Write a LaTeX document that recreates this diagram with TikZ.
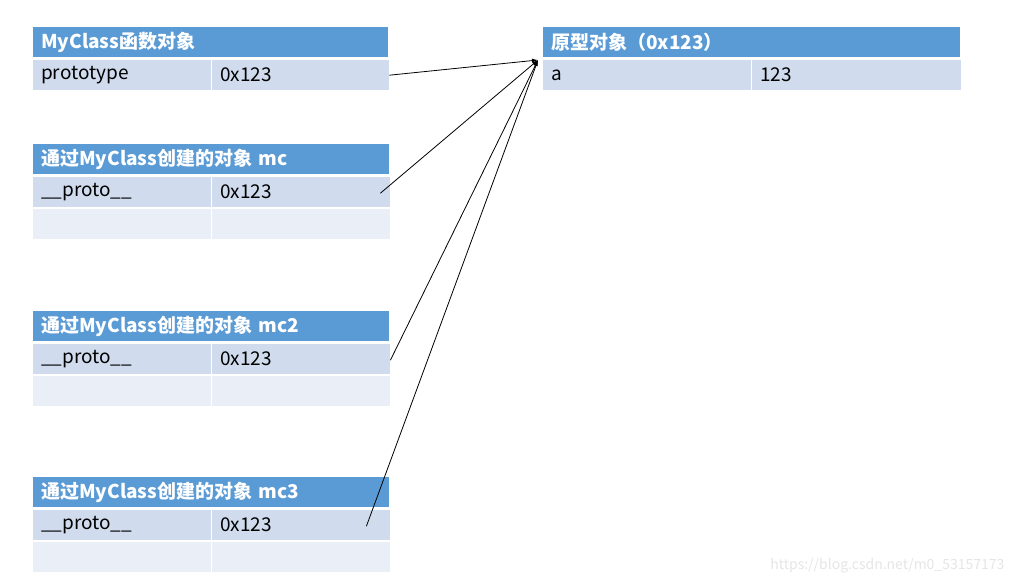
\documentclass[tikz,border=0pt]{standalone}
\usepackage{fontspec}
\setmainfont{Noto Sans CJK SC}
\usetikzlibrary{arrows.meta}
\definecolor{headblue}{HTML}{5B9BD5}
\definecolor{rowdark}{HTML}{D0DCEE}
\definecolor{rowlight}{HTML}{E9EEF7}
\begin{document}
\begin{tikzpicture}[
  x=1pt, y=-1pt,
  head/.style={anchor=north west, fill=headblue, text=white, font=\fontsize{19}{21}\selectfont\bfseries,
    minimum height=30pt, inner xsep=8pt, inner ysep=0pt, align=left},
  cell/.style={anchor=north west, fill=rowdark, font=\fontsize{19}{21}\selectfont,
    minimum height=30pt, inner xsep=8pt, inner ysep=0pt, align=left},
  blank/.style={cell, fill=rowlight},
  link/.style={line width=0.8pt, -{Latex[length=6pt,width=4pt]}}
]
\useasboundingbox (0,0) rectangle (1017,585);

% Function object
\node[head, text width=339pt] (fnhead) at (33,27) {MyClass函数对象};
\node[cell, text width=162pt] (fnkey) at (33,60) {prototype};
\node[cell, text width=161pt] (fnval) at (212,60) {0x123};

% Prototype object
\node[head, text width=401pt] (protohead) at (543,27) {原型对象（0x123）};
\node[cell, text width=192pt] (akey) at (543,60) {a};
\node[cell, text width=193pt] (aval) at (752,60) {123};
\coordinate (tip) at (538,60);

% Instance mc
\node[head, text width=340pt] (mchead) at (33,144) {通过MyClass创建的对象 mc};
\node[cell, text width=162pt] (mckey) at (33,177) {\_\_proto\_\_};
\node[cell, text width=162pt] (mcval) at (212,177) {0x123};
\node[blank, text width=162pt] (mcempA) at (33,209) {};
\node[blank, text width=162pt] (mcempB) at (212,209) {};

% Instance mc2
\node[head, text width=340pt] (mctwohead) at (33,311) {通过MyClass创建的对象 mc2};
\node[cell, text width=162pt] (mctwokey) at (33,344) {\_\_proto\_\_};
\node[cell, text width=162pt] (mctwoval) at (212,344) {0x123};
\node[blank, text width=162pt] (mctwoempA) at (33,376) {};
\node[blank, text width=162pt] (mctwoempB) at (212,376) {};

% Instance mc3
\node[head, text width=340pt] (mcthreehead) at (33,477) {通过MyClass创建的对象 mc3};
\node[cell, text width=162pt] (mcthreekey) at (33,510) {\_\_proto\_\_};
\node[cell, text width=162pt] (mcthreeval) at (212,510) {0x123};
\node[blank, text width=162pt] (mcthreeempA) at (33,542) {};
\node[blank, text width=162pt] (mcthreeempB) at (212,542) {};

\draw[link] (fnval.east) -- (tip);
\draw[link] ([xshift=-10pt,yshift=-1pt]mcval.east) -- (tip);
\draw[link] ([yshift=-1pt]mctwoval.east) -- (tip);
\draw[link] ([xshift=-24pt,yshift=-1pt]mcthreeval.east) -- (tip);

\node[anchor=east, text=black!10, font=\fontsize{14}{16}\selectfont] (watermark) at (1008,566) {https://blog.csdn.net/m0\_53157173};
\end{tikzpicture}
\end{document}
